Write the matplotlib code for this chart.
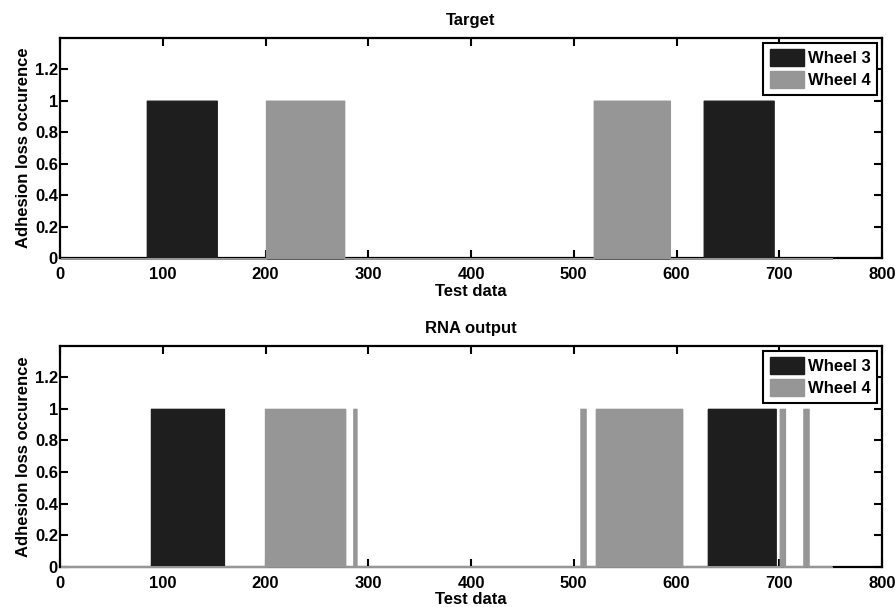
import numpy as np
import matplotlib
matplotlib.use("Agg")
import matplotlib.pyplot as plt
from matplotlib.patches import Patch
from matplotlib.ticker import FuncFormatter

plt.rcParams['font.family'] = ['Liberation Sans', 'DejaVu Sans']
plt.rcParams['font.weight'] = 'bold'

n_samples = 751
series_names = ["Wheel 3", "Wheel 4"]
titles = ["Target", "RNA output"]

# pulse intervals (sample index start, end) where adhesion loss = 1
target_w3_start = [85, 627]
target_w3_end = [152, 694]
target_w4_start = [201, 520]
target_w4_end = [276, 593]

rna_w3_start = [89, 631]
rna_w3_end = [159, 696]
rna_w4_start = [200, 286, 507, 522, 701, 724]
rna_w4_end = [277, 288, 511, 605, 705, 728]

xticks = [0, 100, 200, 300, 400, 500, 600, 700, 800]
yticks = [0, 0.2, 0.4, 0.6, 0.8, 1.0, 1.2]

dark = '#1e1e1e'
gray = '#969696'

def pulses(starts, ends, x):
    y = np.zeros_like(x, dtype=float)
    for s, e in zip(starts, ends):
        y[(x >= s) & (x <= e)] = 1.0
    return y

x = np.arange(1, n_samples + 1)
data = [
    (pulses(target_w3_start, target_w3_end, x), pulses(target_w4_start, target_w4_end, x)),
    (pulses(rna_w3_start, rna_w3_end, x), pulses(rna_w4_start, rna_w4_end, x)),
]

fig = plt.figure(figsize=(8.96, 6.07), dpi=100)
rects = [[0.067, 0.5745, 0.9174, 0.3634], [0.067, 0.0664, 0.9174, 0.364]]

for rect, (w3, w4), title in zip(rects, data, titles):
    ax = fig.add_axes(rect)
    ax.fill_between(x, 0, w3, step='mid', facecolor=dark, edgecolor=dark,
                    linewidth=1.0, zorder=3, clip_on=False)
    ax.fill_between(x, 0, w4, step='mid', facecolor=gray, edgecolor=gray,
                    linewidth=1.0, zorder=3.1, clip_on=False)
    ax.set_xlim(0, 800)
    ax.set_ylim(0, 1.4)
    ax.set_xticks(xticks)
    ax.set_yticks(yticks)
    ax.yaxis.set_major_formatter(FuncFormatter(lambda v, p: '%g' % round(v, 2)))
    ax.tick_params(direction='in', length=5.5, width=1.5, top=True, right=True, labelsize=12)
    ax.tick_params(axis='x', pad=6.5)
    ax.tick_params(axis='y', pad=1.5)
    for lab in ax.get_xticklabels() + ax.get_yticklabels():
        lab.set_fontweight('bold')
    for sp in ax.spines.values():
        sp.set_linewidth(1.6)
    ax.set_title(title, fontsize=12, fontweight='bold', pad=9)
    ax.set_xlabel('Test data', fontsize=12, fontweight='bold', labelpad=1)
    ax.set_ylabel('Adhesion loss occurence', fontsize=12, fontweight='bold', labelpad=3)
    handles = [Patch(facecolor=dark, edgecolor=dark), Patch(facecolor=gray, edgecolor=gray)]
    leg = ax.legend(handles, series_names, loc='upper right', fancybox=False, framealpha=1,
                    edgecolor='black', prop={'weight': 'bold', 'size': 12},
                    borderaxespad=0.3, handlelength=2.05, handleheight=1.15,
                    handletextpad=0.2, borderpad=0.4, labelspacing=0.3)
    leg.get_frame().set_linewidth(1.5)
    leg.set_zorder(5)

fig.savefig('out.png', dpi=100)
